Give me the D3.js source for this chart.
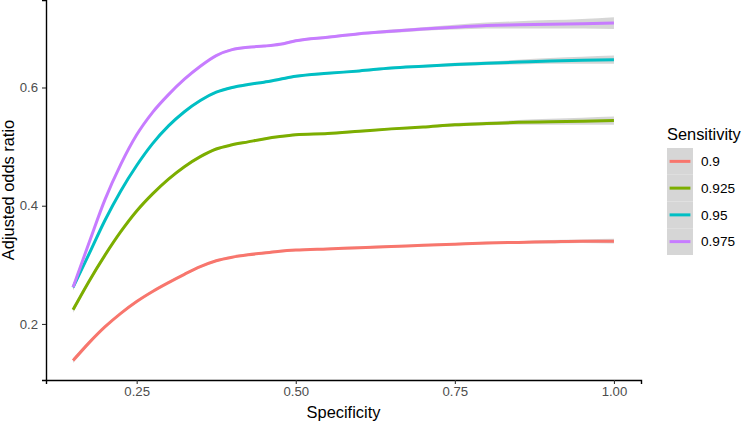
<!DOCTYPE html>
<html lang="en">
<head>
    <meta charset="UTF-8">
    <title>Adjusted odds ratio by specificity</title>
    <script src="https://d3js.org/d3.v7.min.js"></script>
    <style>
        body { margin: 0; background-color: #FFFFFF; }
        svg { display: block; font-family: "Liberation Sans", Arial, sans-serif; }
    </style>
</head>
<body>
    <svg></svg>

    <script>
        // data
        const specificity = [0.15, 0.175, 0.2, 0.225, 0.25, 0.275, 0.3, 0.325, 0.35, 0.375, 0.4, 0.425, 0.45, 0.475, 0.5,
                             0.55, 0.6, 0.65, 0.7, 0.75, 0.8, 0.85, 0.9, 0.95, 1.0];
        const sensitivityLevels = ["0.9", "0.925", "0.95", "0.975"];
        const odds090 = [0.138, 0.168, 0.195, 0.218, 0.238, 0.255, 0.270, 0.284, 0.297, 0.307, 0.313, 0.317, 0.320, 0.323, 0.325,
                         0.327, 0.329, 0.331, 0.333, 0.335, 0.337, 0.338, 0.339, 0.340, 0.340];
        const odds0925 = [0.224, 0.272, 0.316, 0.356, 0.391, 0.420, 0.445, 0.466, 0.483, 0.496, 0.503, 0.508, 0.513, 0.517, 0.520,
                          0.522, 0.526, 0.530, 0.533, 0.537, 0.539, 0.541, 0.542, 0.543, 0.544];
        const odds095 = [0.262, 0.318, 0.375, 0.425, 0.468, 0.505, 0.535, 0.559, 0.578, 0.592, 0.600, 0.605, 0.609, 0.614, 0.619,
                         0.624, 0.628, 0.633, 0.636, 0.639, 0.641, 0.643, 0.645, 0.646, 0.647];
        const odds0975 = [0.262, 0.337, 0.410, 0.470, 0.520, 0.558, 0.588, 0.614, 0.636, 0.654, 0.664, 0.668, 0.670, 0.673, 0.679,
                          0.685, 0.691, 0.695, 0.699, 0.702, 0.705, 0.706, 0.707, 0.708, 0.709];
        // half width of the grey confidence band
        const band090 = [0.004, 0.003, 0.002, 0.002, 0.002, 0.002, 0.002, 0.002, 0.002, 0.002, 0.002, 0.002, 0.002, 0.002, 0.002,
                         0.002, 0.002, 0.002, 0.002, 0.002, 0.002, 0.002, 0.003, 0.003, 0.004];
        const band0925 = [0.005, 0.004, 0.003, 0.002, 0.002, 0.002, 0.002, 0.002, 0.002, 0.002, 0.002, 0.002, 0.002, 0.002, 0.002,
                          0.002, 0.002, 0.002, 0.002, 0.003, 0.003, 0.004, 0.005, 0.006, 0.007];
        const band095 = [0.005, 0.004, 0.003, 0.002, 0.002, 0.002, 0.002, 0.002, 0.002, 0.002, 0.002, 0.002, 0.002, 0.002, 0.002,
                         0.002, 0.002, 0.002, 0.002, 0.003, 0.003, 0.004, 0.005, 0.006, 0.007];
        const band0975 = [0.005, 0.004, 0.003, 0.002, 0.002, 0.002, 0.002, 0.002, 0.002, 0.002, 0.002, 0.002, 0.002, 0.002, 0.002,
                          0.002, 0.002, 0.003, 0.003, 0.004, 0.005, 0.006, 0.007, 0.008, 0.010];
        const xTicks = [0.25, 0.50, 0.75, 1.00];
        const yTicks = [0.2, 0.4, 0.6];

        const colours = ["#F8766D", "#7CAE00", "#00BFC4", "#C77CFF"];
        const series = [odds090, odds0925, odds095, odds0975];
        const bands = [band090, band0925, band095, band0975];

        let width = 750, height = 421;
        let svg = d3.select("svg").attr("width", width).attr("height", height);

        let panel = {left: 46, right: 641, top: 0, bottom: 380};

        let x = d3.scaleLinear().domain([0.1075, 1.0425]).range([panel.left, panel.right]);
        let y = d3.scaleLinear().domain([0.1052, 0.748]).range([panel.bottom, panel.top]);

        let line = d3.line()
            .x(d => x(d.s))
            .y(d => y(d.v))
            .curve(d3.curveMonotoneX);
        let area = d3.area()
            .x(d => x(d.s))
            .y0(d => y(d.v - d.b))
            .y1(d => y(d.v + d.b))
            .curve(d3.curveMonotoneX);

        let rows = series.map((vals, i) => specificity.map((s, j) => ({s: s, v: vals[j], b: bands[i][j]})));

        // confidence bands
        svg.append("g")
            .selectAll("path")
            .data(rows)
            .enter()
            .append("path")
            .attr("d", area)
            .attr("fill", "#999999")
            .attr("fill-opacity", 0.4);

        // smooth lines
        svg.append("g")
            .selectAll("path")
            .data(rows)
            .enter()
            .append("path")
            .attr("d", line)
            .attr("fill", "none")
            .attr("stroke", (d, i) => colours[i])
            .attr("stroke-width", 3);

        // axes
        let xAxis = svg.append("g")
            .attr("transform", "translate(0," + panel.bottom + ")")
            .call(d3.axisBottom(x).tickValues(xTicks).tickFormat(d3.format(".2f")).tickSizeOuter(0).tickSize(4).tickPadding(3));
        let yAxis = svg.append("g")
            .attr("transform", "translate(" + panel.left + ",0)")
            .call(d3.axisLeft(y).tickValues(yTicks).tickFormat(d3.format(".1f")).tickSizeOuter(0).tickSize(4).tickPadding(4));

        [xAxis, yAxis].forEach(a => {
            a.select(".domain").attr("stroke", "#000").attr("stroke-width", 1.4);
            a.selectAll(".tick line").attr("stroke", "#333").attr("stroke-width", 1.1);
            a.selectAll(".tick text").attr("fill", "#4D4D4D").style("font-size", "13.2px");
        });

        svg.append("text")
            .attr("x", (panel.left + panel.right) / 2)
            .attr("y", 418)
            .attr("text-anchor", "middle")
            .style("font-size", "16.4px")
            .text("Specificity");

        svg.append("text")
            .attr("transform", "translate(14," + (panel.bottom / 2) + ") rotate(-90)")
            .attr("text-anchor", "middle")
            .style("font-size", "16.4px")
            .text("Adjusted odds ratio");

        // legend
        let legend = svg.append("g").attr("transform", "translate(667,148)");
        legend.append("text")
            .attr("x", 0)
            .attr("y", -8.5)
            .style("font-size", "16.4px")
            .text("Sensitivity");
        let keyH = 26.75, keyW = 26;
        let keys = legend.selectAll(".key")
            .data(sensitivityLevels)
            .enter()
            .append("g")
            .attr("transform", (d, i) => "translate(0," + (i * keyH) + ")");
        keys.append("rect")
            .attr("width", keyW)
            .attr("height", keyH)
            .attr("fill", "#D6D6D6");
        keys.append("line")
            .attr("x1", keyW * 0.1)
            .attr("x2", keyW * 0.9)
            .attr("y1", keyH / 2)
            .attr("y2", keyH / 2)
            .attr("stroke", (d, i) => colours[i])
            .attr("stroke-width", 3);
        keys.append("text")
            .attr("x", 34)
            .attr("y", keyH / 2)
            .attr("dy", "0.35em")
            .style("font-size", "13.6px")
            .text(d => d);
    </script>
</body>
</html>
